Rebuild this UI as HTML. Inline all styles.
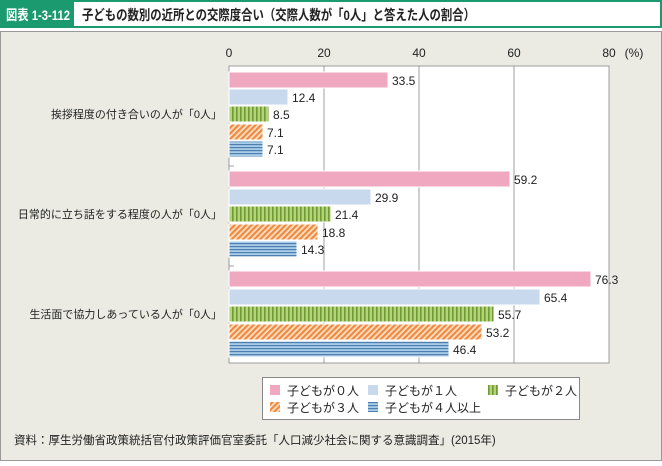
<!DOCTYPE html><html><head><meta charset="utf-8"><style>
body{margin:0;width:662px;height:461px;background:#fff;font-family:"Liberation Sans","Noto Sans CJK JP",sans-serif;overflow:hidden}
</style></head><body>
<svg width="662" height="461" xmlns="http://www.w3.org/2000/svg" font-family="Liberation Sans, Noto Sans CJK JP, sans-serif">
<defs>
<pattern id="g" width="4" height="4" patternUnits="userSpaceOnUse"><rect width="4" height="4" fill="#b5d37a"/><rect width="1.6" height="4" fill="#6f9a34"/></pattern>
<pattern id="o" width="4" height="4" patternUnits="userSpaceOnUse" patternTransform="rotate(45)"><rect width="4" height="4" fill="#fde0c8"/><rect width="2.2" height="4" fill="#f08a3e"/></pattern>
<pattern id="b" width="4" height="3" patternUnits="userSpaceOnUse"><rect width="4" height="3" fill="#a9cde8"/><rect width="4" height="1.2" fill="#4e7fae"/></pattern>
</defs>
<rect x="1" y="1" width="660" height="26" fill="#fff" stroke="#1a9a6e" stroke-width="2"/>
<rect x="2" y="2" width="72" height="24" fill="#1a9a6e"/>
<text x="6" y="20" fill="#fff" font-size="14" font-weight="bold" textLength="64" lengthAdjust="spacingAndGlyphs">図表 1-3-112</text>
<text x="82" y="20" fill="#222" font-size="14" font-weight="bold" textLength="393" lengthAdjust="spacingAndGlyphs">子どもの数別の近所との交際度合い（交際人数が「0人」と答えた人の割合）</text>
<rect x="0.5" y="31.5" width="661" height="429" fill="#ebebe4" stroke="#999"/>
<g font-size="12" fill="#222" text-anchor="middle">
<text x="229" y="57">0</text><text x="324" y="57">20</text><text x="419" y="57">40</text><text x="514" y="57">60</text><text x="609" y="57">80</text><text x="634" y="57">(%)</text>
</g>
<rect x="229" y="66" width="380" height="297" fill="#fff" stroke="#888" stroke-width="0.8"/>
<g stroke="#888" stroke-width="0.8"><line x1="324" y1="66" x2="324" y2="363"/><line x1="419" y1="66" x2="419" y2="363"/><line x1="514" y1="66" x2="514" y2="363"/>
<line x1="229" y1="166" x2="234" y2="166"/><line x1="229" y1="266" x2="234" y2="266"/></g>
<g stroke="#fff" stroke-width="1">
<rect x="229" y="72" width="159" height="16" fill="#f0a7c0"/><rect x="229" y="89" width="59" height="16" fill="#c8d9ee"/><rect x="229" y="106" width="40" height="16" fill="url(#g)"/><rect x="229" y="124" width="34" height="16" fill="url(#o)"/><rect x="229" y="141" width="34" height="16" fill="url(#b)"/>
<rect x="229" y="171" width="281" height="16" fill="#f0a7c0"/><rect x="229" y="189" width="142" height="16" fill="#c8d9ee"/><rect x="229" y="206" width="102" height="16" fill="url(#g)"/><rect x="229" y="224" width="89" height="16" fill="url(#o)"/><rect x="229" y="241" width="68" height="16" fill="url(#b)"/>
<rect x="229" y="271" width="362" height="16" fill="#f0a7c0"/><rect x="229" y="289" width="311" height="16" fill="#c8d9ee"/><rect x="229" y="306" width="265" height="16" fill="url(#g)"/><rect x="229" y="324" width="253" height="16" fill="url(#o)"/><rect x="229" y="341" width="220" height="16" fill="url(#b)"/>
</g>
<g font-size="12" fill="#222">
<text x="392" y="85">33.5</text><text x="292" y="102">12.4</text><text x="273" y="119">8.5</text><text x="267" y="137">7.1</text><text x="267" y="154">7.1</text>
<text x="514" y="184">59.2</text><text x="375" y="202">29.9</text><text x="335" y="219">21.4</text><text x="322" y="237">18.8</text><text x="301" y="254">14.3</text>
<text x="595" y="284">76.3</text><text x="544" y="302">65.4</text><text x="498" y="319">55.7</text><text x="486" y="337">53.2</text><text x="453" y="354">46.4</text>
</g>
<g font-size="11" fill="#222" text-anchor="end">
<text x="222" y="118">挨拶程度の付き合いの人が「0人」</text>
<text x="222" y="218">日常的に立ち話をする程度の人が「0人」</text>
<text x="222" y="318">生活面で協力しあっている人が「0人」</text>
</g>
<rect x="262.5" y="377.5" width="317" height="42" fill="#fff" stroke="#888"/>
<g font-size="12" fill="#222">
<rect x="270" y="385" width="10" height="10" fill="#f0a7c0"/><text x="287" y="395">子どもが０人</text>
<rect x="368" y="385" width="10" height="10" fill="#c8d9ee"/><text x="385" y="395">子どもが１人</text>
<rect x="488" y="385" width="10" height="10" fill="url(#g)"/><text x="505" y="395">子どもが２人</text>
<rect x="270" y="402" width="10" height="10" fill="url(#o)"/><text x="287" y="412">子どもが３人</text>
<rect x="368" y="402" width="10" height="10" fill="url(#b)"/><text x="385" y="412">子どもが４人以上</text>
</g>
<text x="14" y="444" font-size="11.5" fill="#222">資料：厚生労働省政策統括官付政策評価官室委託「人口減少社会に関する意識調査」(2015年)</text>
</svg>
</body></html>
